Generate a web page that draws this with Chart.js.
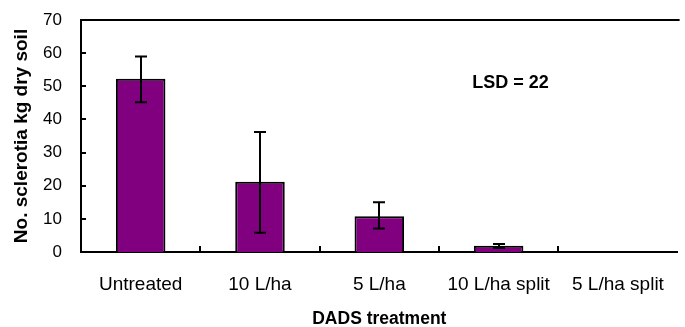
<!DOCTYPE html>
<html>
<head>
<meta charset="utf-8">
<script src="https://cdn.jsdelivr.net/npm/chart.js@4"></script>
<style>
  body { margin: 0; background: #fff; }
  #wrap { width: 685px; height: 327px; }
</style>
</head>
<body>
<div id="wrap"><canvas id="chart"></canvas></div>
<script>
// data
const categories = ['Untreated', '10 L/ha', '5 L/ha', '10 L/ha split', '5 L/ha split'];
const sclerotia = [52.3, 21.2, 10.8, 1.9, 0];
const errHigh = [59, 36.2, 15, 2.4, null];
const errLow = [45.2, 5.8, 7.1, 1.2, null];
const yTicks = [0, 10, 20, 30, 40, 50, 60, 70];
const lsdText = 'LSD = 22';

// error bars, inner tick marks, top frame line and the LSD note
const extras = {
  id: 'extras',
  afterDatasetsDraw(chart) {
    const { ctx, chartArea, scales: { x, y } } = chart;
    ctx.save();
    ctx.strokeStyle = '#000';
    ctx.lineWidth = 2;

    // error bars
    const meta = chart.getDatasetMeta(0);
    meta.data.forEach((bar, i) => {
      if (errHigh[i] == null) return;
      const hi = y.getPixelForValue(errHigh[i]);
      const lo = y.getPixelForValue(errLow[i]);
      const cx = Math.round(bar.x);
      ctx.beginPath();
      ctx.moveTo(cx, hi); ctx.lineTo(cx, lo);
      ctx.moveTo(cx - 6, hi); ctx.lineTo(cx + 6, hi);
      ctx.moveTo(cx - 6, lo); ctx.lineTo(cx + 6, lo);
      ctx.stroke();
    });

    // top line of the frame
    ctx.beginPath();
    ctx.moveTo(chartArea.left, chartArea.top);
    ctx.lineTo(chartArea.right + 2, chartArea.top);
    ctx.stroke();

    // inner ticks on y axis
    ctx.beginPath();
    yTicks.forEach(v => {
      const py = Math.round(y.getPixelForValue(v));
      ctx.moveTo(chartArea.left, py);
      ctx.lineTo(chartArea.left + 5, py);
    });
    // inner ticks on x axis between categories
    for (let i = 1; i < categories.length; i++) {
      const px = Math.round(x.getPixelForValue(i - 0.5));
      ctx.moveTo(px, chartArea.bottom);
      ctx.lineTo(px, chartArea.bottom - 6);
    }
    ctx.stroke();

    // LSD note
    ctx.fillStyle = '#000';
    ctx.font = 'bold 18px "Liberation Sans", Arial, sans-serif';
    ctx.textAlign = 'center';
    ctx.textBaseline = 'middle';
    ctx.fillText(lsdText, x.getPixelForValue(3.1), y.getPixelForValue(51));
    ctx.restore();
  }
};

const config = {
  type: 'bar',
  data: {
    labels: categories,
    datasets: [{
      data: sclerotia,
      backgroundColor: '#800080',
      borderColor: '#000',
      borderWidth: 2,
      borderSkipped: 'start',
      barPercentage: 0.415,
      categoryPercentage: 1,
    }],
  },
  options: {
    responsive: true,
    maintainAspectRatio: false,
    animation: false,
    layout: { padding: { top: 20, right: 1, left: 0, bottom: 0 } },
    scales: {
      x: {
        grid: { display: false, drawTicks: false },
        border: { display: true, color: '#000', width: 2 },
        ticks: {
          color: '#000',
          padding: 21,
          maxRotation: 0,
          autoSkip: false,
          font: { family: '"Liberation Sans", Arial, sans-serif', size: 19 },
        },
        title: {
          display: true,
          text: 'DADS treatment',
          color: '#000',
          padding: 0,
          font: { family: '"Liberation Sans", Arial, sans-serif', size: 17.5, weight: 'bold', lineHeight: 0.9 },
        },
        afterFit(scale) { scale.height = 75; },
      },
      y: {
        min: 0,
        max: 70,
        grid: { display: false, drawTicks: false },
        border: { display: true, color: '#000', width: 2 },
        ticks: {
          stepSize: 10,
          color: '#000',
          padding: 19,
          font: { family: '"Liberation Sans", Arial, sans-serif', size: 17 },
        },
        title: {
          display: true,
          text: 'No. sclerotia kg dry soil',
          color: '#000',
          padding: { top: 10, bottom: 0 },
          font: { family: '"Liberation Sans", Arial, sans-serif', size: 19, weight: 'bold' },
        },
        afterFit(scale) {
          scale.width = 81;
          scale.paddingTop = 0;
          scale.paddingBottom = 0;
        },
      },
    },
    plugins: {
      legend: { display: false },
      tooltip: { enabled: false },
    },
  },
  plugins: [extras],
};

const myChart = new Chart(document.getElementById('chart'), config);
</script>
</body>
</html>
